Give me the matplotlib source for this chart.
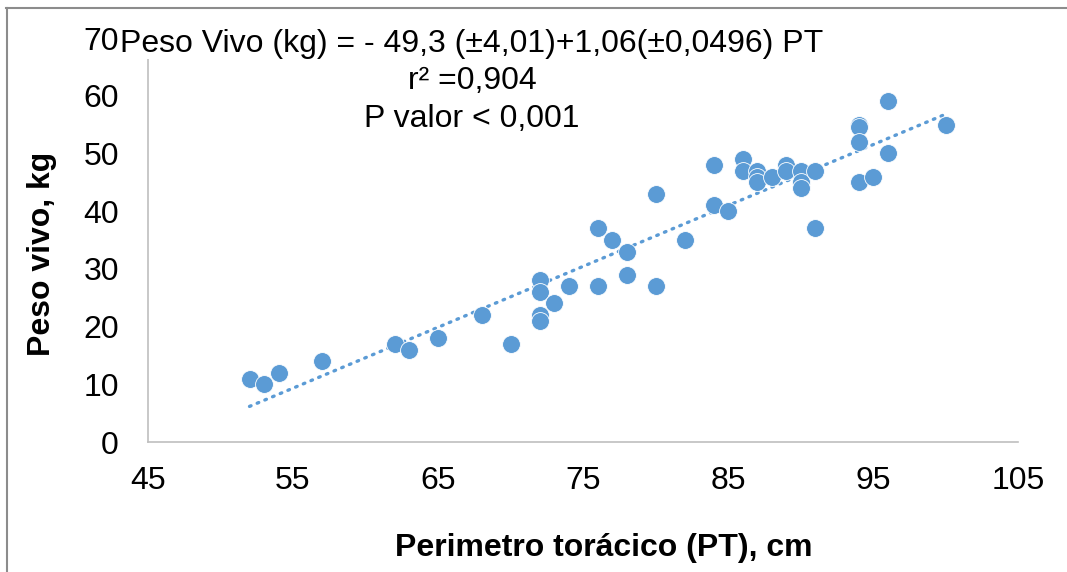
import numpy as np
import matplotlib
matplotlib.use("Agg")
import matplotlib.pyplot as plt
from matplotlib.lines import Line2D

# Perimetro toracico (cm) e peso vivo (kg)
pt = [52, 53, 54, 57, 62, 63, 65, 68, 70,
      72, 72, 72, 72, 73, 74, 76, 76, 77, 78, 78, 80, 80, 82,
      84, 84, 85, 86, 86, 87, 87, 87, 88, 89, 89, 90, 90, 90, 91, 91,
      94, 94, 94, 94, 95, 96, 96, 100]
peso = [11, 10, 12, 14, 17, 16, 18, 22, 17,
        28, 26, 22, 21, 24, 27, 37, 27, 35, 33, 29, 43, 27, 35,
        48, 41, 40, 49, 47, 47, 46, 45, 46, 48, 47, 47, 45, 44, 47, 37,
        55, 54.5, 52, 45, 46, 59, 50, 55]

x_ticks = [45, 55, 65, 75, 85, 95, 105]
y_ticks = [0, 10, 20, 30, 40, 50, 60, 70]

eq_lines = ["Peso Vivo (kg) = - 49,3 (\u00b14,01)+1,06(\u00b10,0496) PT",
            "r\u00b2 =0,904",
            "P valor < 0,001"]

plt.rcParams["font.family"] = ["Liberation Sans", "DejaVu Sans"]

blue = "#5B9BD5"
W, H = 1067, 572
fig = plt.figure(figsize=(W / 100, H / 100), dpi=100)
ax = fig.add_axes([148 / W, 1 - 442 / H, (1018 - 148) / W, (442 - 38) / H])

x = np.array(pt, dtype=float)
y = np.array(peso, dtype=float)
ax.scatter(x, y, s=165, color=blue, edgecolors="white", linewidths=0.6, zorder=3)

# linha de tendencia linear
b, a = np.polyfit(x, y, 1)
xl = np.array([x.min(), x.max()])
ax.plot(xl, a + b * xl, color=blue, lw=2.4, linestyle=(0, (0.5, 2.0)),
        dash_capstyle="round", zorder=2)

ax.set_xlim(45, 105)
ax.set_ylim(0, 70)
ax.set_xticks(x_ticks)
ax.set_yticks(y_ticks)
ax.tick_params(length=0, labelsize=23, colors="black")
ax.tick_params(axis="x", pad=17)
ax.tick_params(axis="y", pad=21)
for side in ["top", "right"]:
    ax.spines[side].set_visible(False)
for side in ["left", "bottom"]:
    ax.spines[side].set_color("#BFBFBF")
    ax.spines[side].set_linewidth(1.2)

fig.text(42 / W, 1 - 254 / H, "Peso vivo, kg", rotation=90, ha="center",
         va="center", fontsize=23, fontweight="bold")
fig.text(604 / W, 1 - 548 / H, "Perimetro tor\u00e1cico (PT), cm", ha="center",
         va="center", fontsize=23, fontweight="bold")

# rotulo da equacao (cada linha na sua posicao)
for txt, ypix in zip(eq_lines, [44, 81, 119]):
    fig.text(472 / W, 1 - ypix / H, txt, ha="center", va="center",
             fontsize=23, zorder=5,
             bbox=dict(facecolor="white", edgecolor="none", pad=0))

# borda do grafico
fig.add_artist(Line2D([6 / W, 1], [1 - 7.5 / H, 1 - 7.5 / H], color="#8C8C8C", lw=1.5))
fig.add_artist(Line2D([6.5 / W, 6.5 / W], [0, 1 - 7.5 / H], color="#8C8C8C", lw=1.5))

fig.savefig("out.png", dpi=100, facecolor="white")
